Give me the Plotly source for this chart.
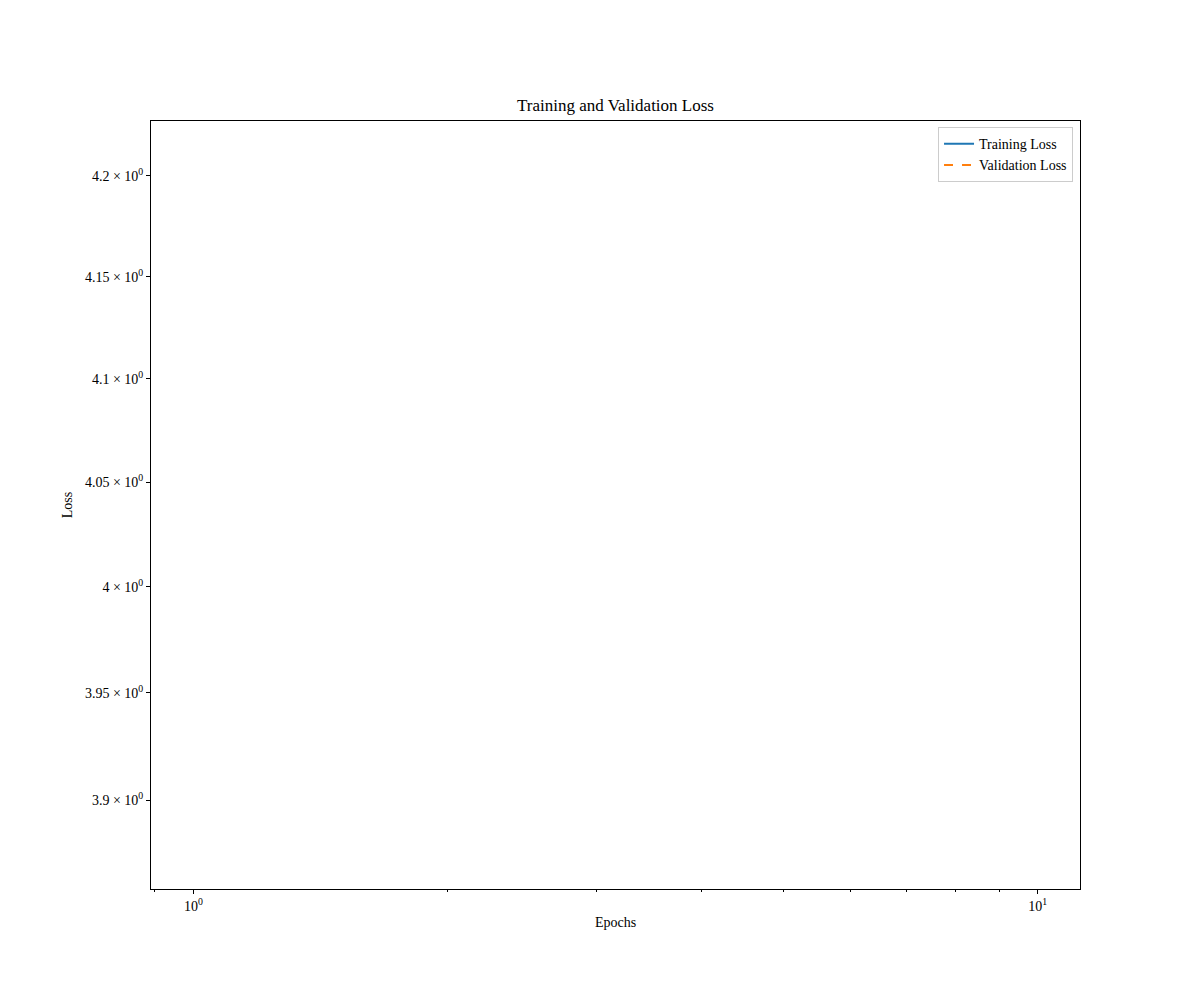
import math
import plotly.graph_objects as go

# Data: the reference shows no visible line segments (values are missing),
# only the legend and the autoscaled log axes.
epochs = [1, 2, 3, 4, 5, 6, 7, 8, 9, 10]
train_loss = [None] * 10
val_loss = [None] * 10

# Axis ranges (data units)
x_range = [0.891, 11.22]
y_range = [3.859, 4.2275]

y_ticks = [3.9, 3.95, 4.0, 4.05, 4.1, 4.15, 4.2]
y_tick_text = ["3.9 × 10<sup>0</sup>", "3.95 × 10<sup>0</sup>", "4 × 10<sup>0</sup>",
               "4.05 × 10<sup>0</sup>", "4.1 × 10<sup>0</sup>", "4.15 × 10<sup>0</sup>",
               "4.2 × 10<sup>0</sup>"]
x_ticks = [1, 10]
x_tick_text = ["10<sup>0</sup>", "10<sup>1</sup>"]
x_minor = [0.9, 2, 3, 4, 5, 6, 7, 8, 9]

FONT = "Liberation Serif, DejaVu Serif, serif"

fig = go.Figure()
fig.add_trace(go.Scatter(x=epochs, y=train_loss, mode="lines", name="Training Loss",
                         line=dict(color="#1f77b4", width=2), connectgaps=False))
fig.add_trace(go.Scatter(x=epochs, y=val_loss, mode="lines", name="Validation Loss",
                         line=dict(color="#ff7f0e", width=2, dash="dash"), connectgaps=False))

fig.update_layout(
    width=1200, height=1000,
    margin=dict(l=151, r=120, t=121, b=111),
    paper_bgcolor="white", plot_bgcolor="white",
    font=dict(family=FONT, size=14, color="black"),
    title=dict(text="Training and Validation Loss", x=(151 + 1080) / 2 / 1200, xanchor="center",
               y=1 - 105 / 1000, yanchor="middle", font=dict(size=17)),
    showlegend=True,
    legend=dict(x=0.9925, y=0.992, xanchor="right", yanchor="top",
                bordercolor="#cccccc", borderwidth=1, bgcolor="rgba(255,255,255,0.8)",
                font=dict(size=14), tracegroupgap=0, itemwidth=30),
)
fig.update_xaxes(
    type="log", range=[math.log10(x_range[0]), math.log10(x_range[1])],
    tickvals=x_ticks, ticktext=x_tick_text,
    ticks="outside", ticklen=4, tickwidth=1, tickcolor="black",
    showline=True, linecolor="black", linewidth=1, mirror=True,
    showgrid=False, zeroline=False,
    minor=dict(tickvals=x_minor, ticks="outside", ticklen=2, tickcolor="black", showgrid=False),
    title=dict(text="Epochs", standoff=4, font=dict(size=14)),
    tickfont=dict(size=14),
)
fig.update_yaxes(
    type="log", range=[math.log10(y_range[0]), math.log10(y_range[1])],
    tickvals=y_ticks, ticktext=y_tick_text,
    ticks="outside", ticklen=4, tickwidth=1, tickcolor="black",
    showline=True, linecolor="black", linewidth=1, mirror=True,
    showgrid=False, zeroline=False,
    title=dict(text="Loss", standoff=8, font=dict(size=14)),
    tickfont=dict(size=14),
)

fig.write_html("out.html")
